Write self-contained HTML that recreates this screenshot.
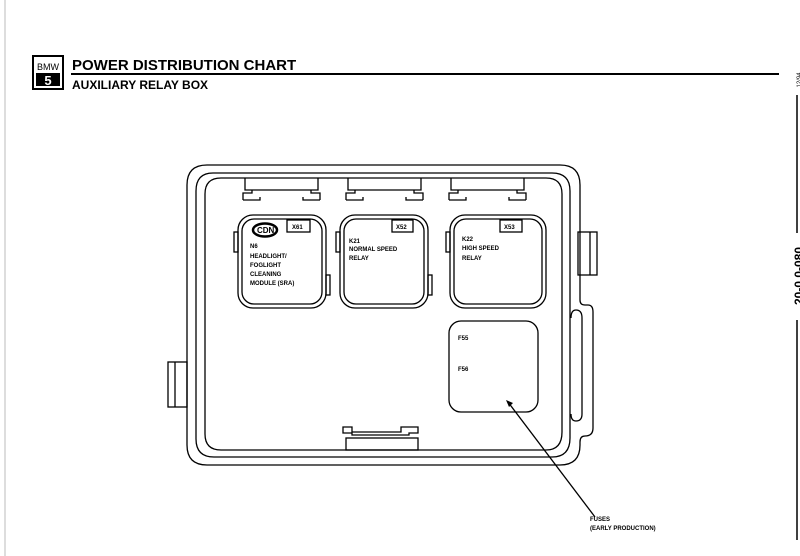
<!DOCTYPE html>
<html><head><style>
body{margin:0;background:#fff;}
svg{display:block;font-family:"Liberation Sans",Arial,sans-serif;}
</style></head><body>
<svg width="800" height="556" viewBox="0 0 800 556" xmlns="http://www.w3.org/2000/svg">
<rect width="800" height="556" fill="#fff"/>
<line x1="5" y1="0" x2="5" y2="556" stroke="#bbb" stroke-width="1"/>
<!-- header -->
<rect x="33" y="56" width="30" height="33" fill="#fff" stroke="#000" stroke-width="2"/>
<text x="48" y="70" font-size="9" text-anchor="middle">BMW</text>
<rect x="36" y="73" width="24" height="13" fill="#000"/>
<text x="48" y="85" font-size="13" font-weight="bold" fill="#fff" text-anchor="middle">5</text>
<text x="72" y="70" font-size="15" font-weight="bold">POWER DISTRIBUTION CHART</text>
<line x1="71" y1="74" x2="779" y2="74" stroke="#000" stroke-width="2"/>
<text x="72" y="89" font-size="12" font-weight="bold">AUXILIARY RELAY BOX</text>
<!-- right margin -->
<line x1="797" y1="95" x2="797" y2="233" stroke="#000" stroke-width="1.5"/>
<line x1="797" y1="320" x2="797" y2="540" stroke="#000" stroke-width="1.5"/>
<text transform="translate(803,276) rotate(-90)" font-size="12" font-weight="bold" text-anchor="middle">20-0.0-080</text>
<text transform="translate(801,80) rotate(-90)" font-size="6" text-anchor="middle">12/94</text>
<g fill="none" stroke="#000" stroke-width="1.3">
<rect x="168" y="362" width="19" height="45"/>
<line x1="175" y1="362" x2="175" y2="407"/>
<rect x="578" y="232" width="19" height="43"/>
<line x1="590" y1="232" x2="590" y2="275"/>
<path d="M207,165 H560 Q580,165 580,185 V300 Q580,305 585,305 H588 Q593,305 593,312 V428 Q593,436 585,436 Q580,436 580,442 V445 Q580,465 560,465 H207 Q187,465 187,445 V185 Q187,165 207,165 Z"/>
<path d="M213,173 H552 Q570,173 570,191 V438 Q570,457 552,457 H214 Q196,457 196,439 V191 Q196,173 213,173 Z"/>
<path d="M221,178 H546 Q562,178 562,194 V432 Q562,450 546,450 H221 Q205,450 205,434 V194 Q205,178 221,178 Z"/>
<path d="M571,318 Q571,310 576,310 Q582,310 582,318 V414 Q582,421 576,421 Q571,421 571,414"/>
<g id="c1">
<path d="M245,178 V190 H318 V178"/>
<path d="M243,200 V193 H252 V190 M320,200 V193 H311 V190 M243,200 H260 V197 M320,200 H303 V197"/>
</g>
<use href="#c1" transform="translate(103,0)"/>
<use href="#c1" transform="translate(206,0)"/>
<path d="M343,427 H352 V432 H401 V427 H418 V433 H409 V435 H352 V433 H343 Z"/>
<rect x="346" y="438" width="72" height="12"/>
<rect x="238" y="215" width="88" height="93" rx="15"/>
<rect x="242" y="219" width="80" height="85" rx="12"/>
<rect x="234" y="232" width="4" height="20"/><rect x="326" y="275" width="4" height="20"/>
<rect x="340" y="215" width="88" height="93" rx="15"/>
<rect x="344" y="219" width="80" height="85" rx="12"/>
<rect x="336" y="232" width="4" height="20"/><rect x="428" y="275" width="4" height="20"/>
<rect x="450" y="215" width="96" height="93" rx="15"/>
<rect x="454" y="219" width="88" height="85" rx="12"/>
<rect x="446" y="232" width="4" height="20"/>
<rect x="287" y="220" width="23" height="12"/>
<rect x="392" y="220" width="21" height="12"/>
<rect x="500" y="220" width="22" height="12"/>
<ellipse cx="265" cy="230" rx="12" ry="6.5" stroke-width="2.5"/>
<rect x="449" y="321" width="89" height="91" rx="12"/>
<line x1="595" y1="517" x2="508" y2="402"/>
</g>
<path d="M506,400 L513,403 L509,407 Z" fill="#000"/>
<g font-size="6" font-weight="bold">
<text x="257" y="233" font-size="8">CDN</text>
<text x="292" y="229">X61</text><text x="396" y="229">X52</text><text x="504" y="229">X53</text>
<text x="250" y="248">N6</text>
<text x="250" y="258">HEADLIGHT/</text>
<text x="250" y="267">FOGLIGHT</text>
<text x="250" y="276">CLEANING</text>
<text x="250" y="285">MODULE (SRA)</text>
<text x="349" y="243">K21</text>
<text x="349" y="251">NORMAL SPEED</text>
<text x="349" y="260">RELAY</text>
<text x="462" y="241">K22</text>
<text x="462" y="250">HIGH SPEED</text>
<text x="462" y="260">RELAY</text>
<text x="458" y="340">F55</text>
<text x="458" y="371">F56</text>
<text x="590" y="521">FUSES</text>
<text x="590" y="530">(EARLY PRODUCTION)</text>
</g>
</svg>
</body></html>
